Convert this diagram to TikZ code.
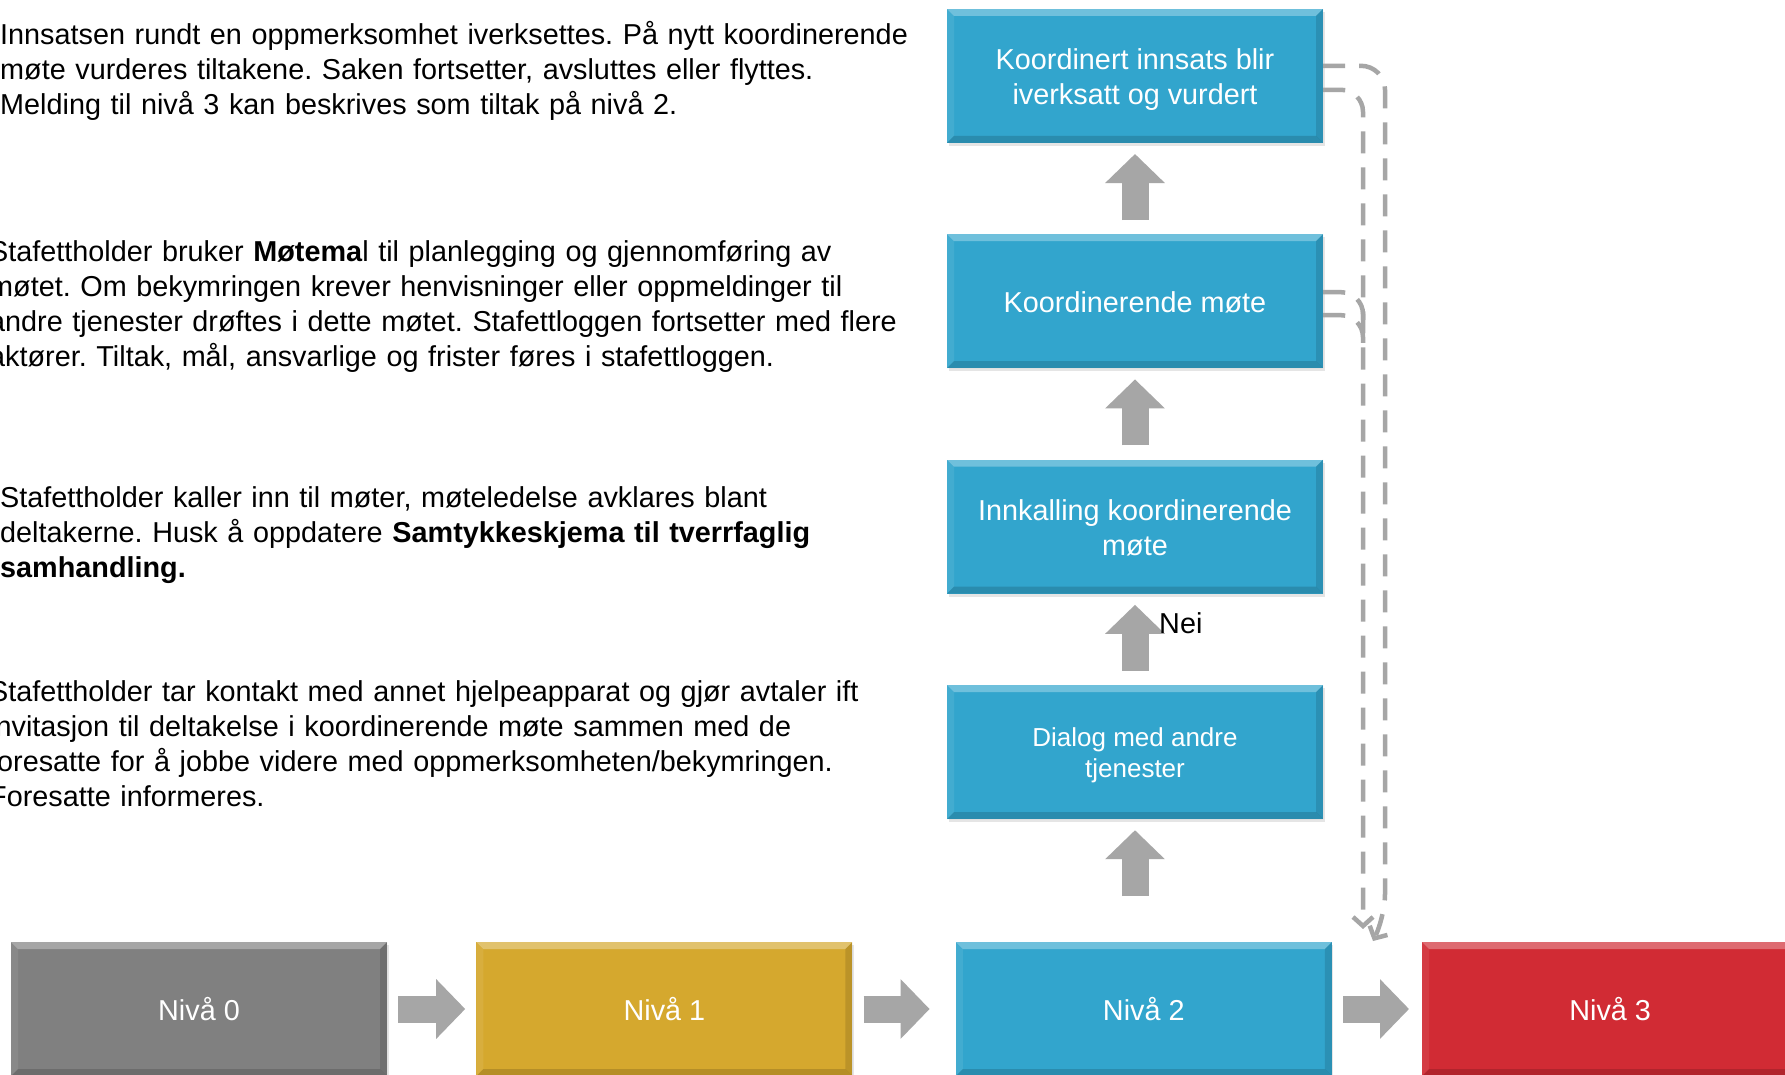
\documentclass[tikz,border=0pt]{standalone}
\usepackage{fontspec}
\setmainfont{Liberation Sans}
\usepackage{tikz}
\usetikzlibrary{arrows.meta,positioning,shadows}

\definecolor{boxblue}{RGB}{50,165,205}
\definecolor{boxgrey}{RGB}{128,128,128}
\definecolor{boxgold}{RGB}{213,168,46}
\definecolor{boxred}{RGB}{209,43,52}
\definecolor{arrowgrey}{RGB}{166,166,166}

\newcommand{\boxfont}{\fontsize{28.8}{35}\selectfont}
\newcommand{\smallboxfont}{\fontsize{26}{31}\selectfont}
\newcommand{\upstrut}{\rule{0pt}{0.93\baselineskip}}
\frenchspacing

\tikzstyle{bevel} = [path picture={
  \fill[white,opacity=.3] (path picture bounding box.north west) -- (path picture bounding box.north east)
    -- ([shift={(-7pt,-7pt)}]path picture bounding box.north east) -- ([shift={(7pt,-7pt)}]path picture bounding box.north west) -- cycle;
  \fill[white,opacity=.08] (path picture bounding box.north west) -- ([shift={(7pt,-7pt)}]path picture bounding box.north west)
    -- ([shift={(7pt,7pt)}]path picture bounding box.south west) -- (path picture bounding box.south west) -- cycle;
  \fill[black,opacity=.12] (path picture bounding box.north east) -- ([shift={(-7pt,-7pt)}]path picture bounding box.north east)
    -- ([shift={(-7pt,7pt)}]path picture bounding box.south east) -- (path picture bounding box.south east) -- cycle;
  \fill[black,opacity=.15] (path picture bounding box.south west) -- ([shift={(7pt,7pt)}]path picture bounding box.south west)
    -- ([shift={(-7pt,7pt)}]path picture bounding box.south east) -- (path picture bounding box.south east) -- cycle;
}]
\tikzstyle{flowbox} = [rectangle, fill=boxblue, text=white, minimum width=376pt, minimum height=134pt, inner sep=0pt,
  align=center, font=\boxfont, bevel, drop shadow={shadow xshift=1.5pt, shadow yshift=-3pt, opacity=.2}]
\tikzstyle{para} = [anchor=north west, inner sep=0pt, text width=960pt, align=left, font=\boxfont]
\tikzstyle{blockarrow} = [arrowgrey, line width=27pt, -{Triangle[width=58pt,length=29pt]}]
\tikzstyle{loopline} = [arrowgrey, line width=4.5pt, dash pattern=on 22pt off 14pt, rounded corners=24pt,
  -{Straight Barb[length=9pt,width=20pt]}]

\begin{document}
\begin{tikzpicture}[x=1pt,y=-1pt]

\path[use as bounding box] (0,0) rectangle (1785,1074);
\fill[white] (0,0) rectangle (1785,1074);
\clip (0,0) rectangle (1785,1074);

% text to the left
\node[para] (p1) at (0,20) {\strut Innsatsen rundt en oppmerksomhet iverksettes. På nytt koordinerende\\
møte vurderes tiltakene. Saken fortsetter, avsluttes eller flyttes.\\
Melding til nivå 3 kan beskrives som tiltak på nivå 2.};
\node[para] (p2) at (-11,237) {\strut Stafettholder bruker \textbf{Møtema}l til planlegging og gjennomføring av\\
møtet. Om bekymringen krever henvisninger eller oppmeldinger til\\
andre tjenester drøftes i dette møtet. Stafettloggen fortsetter med flere\\
aktører. Tiltak, mål, ansvarlige og frister føres i stafettloggen.};
\node[para] (p3) at (0,483) {\strut Stafettholder kaller inn til møter, møteledelse avklares blant\\
deltakerne. Husk å oppdatere \textbf{Samtykkeskjema til tverrfaglig}\\
\textbf{samhandling.}};
\node[para] (p4) at (-11,677) {\strut Stafettholder tar kontakt med annet hjelpeapparat og gjør avtaler ift\\
invitasjon til deltakelse i koordinerende møte sammen med de\\
foresatte for å jobbe videre med oppmerksomheten/bekymringen.\\
Foresatte informeres.};

% steps on level 2
\node[flowbox, font=\smallboxfont] (b1) at (1135,752) {\upstrut Dialog med andre\\tjenester\strut};
\node[flowbox, above=91pt of b1] (b2) {\upstrut Innkalling koordinerende\\møte\strut};
\node[flowbox, above=91pt of b2] (b3) {\upstrut Koordinerende møte\strut};
\node[flowbox, above=91pt of b3] (b4) {\upstrut Koordinert innsats blir\\iverksatt og vurdert\strut};

% levels
\node[flowbox, fill=boxgrey] (n0) at (199,1009) {\upstrut Nivå 0\strut};
\node[flowbox, fill=boxgold, right=89pt of n0] (n1) {\upstrut Nivå 1\strut};
\node[flowbox, fill=boxblue, right=103pt of n1] (n2) {\upstrut Nivå 2\strut};
\node[flowbox, fill=boxred, right=90pt of n2] (n3) {\upstrut Nivå 3\strut};

\draw[blockarrow] ([xshift=11pt]n0.east) -- ([xshift=-11pt]n1.west);
\draw[blockarrow] ([xshift=11pt]n1.east) -- ([xshift=-26pt]n2.west);
\draw[blockarrow] ([xshift=11pt]n2.east) -- ([xshift=-13pt]n3.west);

\draw[blockarrow] ([yshift=-77pt]b1.south) -- ([yshift=-11pt]b1.south);
\draw[blockarrow] ([yshift=14pt]b1.north) -- ([yshift=-11pt]b2.south);
\draw[blockarrow] ([yshift=14pt]b2.north) -- ([yshift=-11pt]b3.south);
\draw[blockarrow] ([yshift=14pt]b3.north) -- ([yshift=-11pt]b4.south);

\node[anchor=west, inner sep=0pt, font=\boxfont] (nei) at (1159,623) {Nei};

% dashed loops back down
\coordinate (outerturn) at (1385,918);
\coordinate (outerend) at (1373,941);
\coordinate (innerend) at (1363,929);
\coordinate (joinup) at (1363,322);
\coordinate (joindown) at (1363,348);

\draw[loopline] ([yshift=10pt]b4.east) -| (outerturn) -- (outerend);
\draw[loopline, rounded corners=22pt] ([yshift=-14pt]b4.east) -| (innerend);
\draw[loopline, rounded corners=22pt, -] ([yshift=9pt]b3.east) -| (joinup);
\draw[loopline, rounded corners=22pt, -] ([yshift=-14pt]b3.east) -| (joindown);

\end{tikzpicture}
\end{document}
